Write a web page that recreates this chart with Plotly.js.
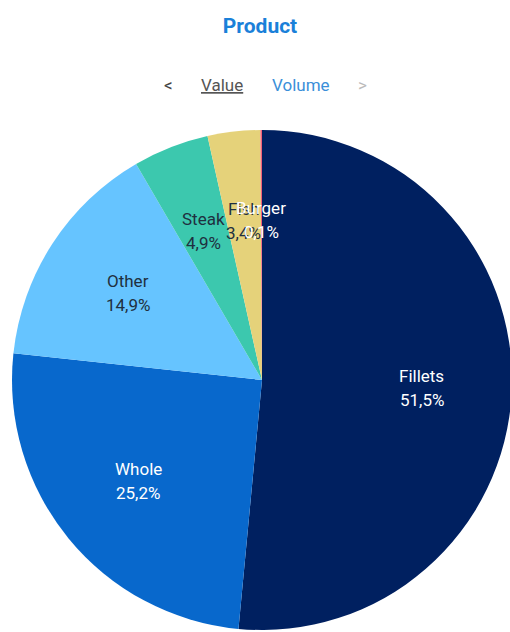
<!DOCTYPE html>
<html><head><meta charset="utf-8">
<script src="https://cdn.plot.ly/plotly-3.0.1.min.js"></script>
<style>html,body{margin:0;padding:0;overflow:hidden;background:#fff;}#chart{width:524px;height:632px;}</style>
</head><body><div id="chart"></div>
<script>
const categories = ["Fillets", "Whole", "Other", "Steak", "Fish", "Burger"];
const shares = [51.5, 25.2, 14.9, 4.9, 3.4, 0.1];
const sliceColors = ["#002060", "#0868CC", "#66C4FF", "#3CC8AE", "#E5D27A", "#F0607A"];
const labelColors = ["#ffffff", "#ffffff", "#1f3040", "#1f3040", "#1f3040", "#ffffff"];
const navLabels = ["<", "Value", "Volume", ">"];

const W = 524, H = 632;
const FONT = "Roboto, Arial, sans-serif";
// pie geometry (pixels): domain box
const box = {x0: 12, x1: 512, y0: 130, y1: 630};

const trace = {
  type: "pie",
  labels: categories,
  values: shares,
  sort: false,
  direction: "clockwise",
  rotation: 0,
  marker: {colors: sliceColors, line: {width: 0}},
  textinfo: "none",
  hoverinfo: "label+percent",
  showlegend: false,
  domain: {x: [box.x0 / W, box.x1 / W], y: [1 - box.y1 / H, 1 - box.y0 / H]}
};

// slice labels placed at a fixed fraction of the radius, at each slice's mid-angle
const total = shares.reduce((a, b) => a + b, 0);
const cx = (box.x0 + box.x1) / 2, cy = (box.y0 + box.y1) / 2;
const R = Math.min(box.x1 - box.x0, box.y1 - box.y0) / 2;
const labelR = 0.64 * R;
const lineGap = 12;
let cum = 0;
const sliceAnn = [];
categories.forEach((c, i) => {
  const mid = (cum + shares[i] / 2) / total * 2 * Math.PI;
  cum += shares[i];
  const px = cx + labelR * Math.sin(mid);
  const py = cy - labelR * Math.cos(mid);
  const pct = (shares[i] / total * 100).toFixed(1).replace(".", ",") + "%";
  [[c, py - lineGap], [pct, py + lineGap]].forEach(([t, yy]) => {
    sliceAnn.push({text: t, x: px / W, y: 1 - yy / H, xref: "paper", yref: "paper",
      xanchor: "center", yanchor: "middle", showarrow: false,
      font: {family: FONT, size: 17, color: labelColors[i]}});
  });
});

const navX = [168, 222, 301, 362];
const navColors = ["#444", "#555", "#3A8FD9", "#bbb"];
const navAnn = navLabels.map((t, i) => ({
  text: i === 1 ? "<u>" + t + "</u>" : t, x: navX[i] / W, y: 1 - 85 / H, xref: "paper", yref: "paper",
  xanchor: "center", yanchor: "middle", showarrow: false,
  font: {family: FONT, size: 17, color: navColors[i]}
}));

const layout = {
  width: W, height: H,
  margin: {l: 0, r: 0, t: 0, b: 0},
  paper_bgcolor: "#fff",
  separators: ",.",
  title: {text: "<b>Product</b>", x: 260 / W, xanchor: "center", y: 1 - 26 / H, yanchor: "middle",
          font: {family: FONT, size: 21, color: "#1A80D9"}},
  annotations: navAnn.concat(sliceAnn)
};

Plotly.newPlot("chart", [trace], layout, {displayModeBar: false, staticPlot: true});
</script></body></html>
